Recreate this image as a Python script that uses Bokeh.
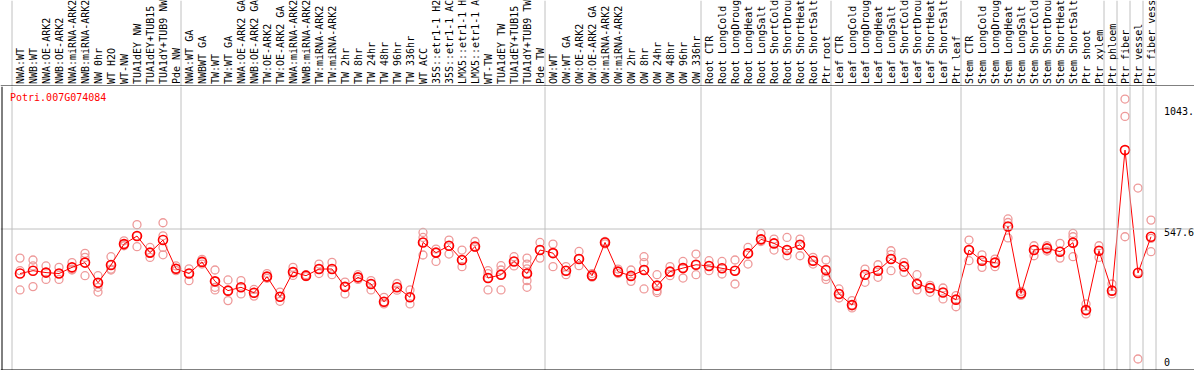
import numpy as np
from bokeh.plotting import figure
from bokeh.models import Range1d, Span, Label, ColumnDataSource
from bokeh.layouts import column
from bokeh.embed import file_html
from bokeh.resources import INLINE
from bokeh.core.properties import value

gene = "Potri.007G074084"

samples = [
    "NWA:WT", "NWB:WT", "NWA:OE-ARK2", "NWB:OE-ARK2", "NWA:miRNA-ARK2", "NWB:miRNA-ARK2",
    "NW 0hr", "WT H2O", "WT-NW", "TUA1dEY NW", "TUA1dEY+TUB15", "TUA1dY+TUB9 NW", "Pde NW",
    "NWA:WT GA", "NWBWT GA", "TW:WT", "TW:WT GA", "NWA:OE-ARK2 GA", "NWB:OE-ARK2 GA",
    "TW:OE-ARK2", "TW:OE-ARK2 GA", "NWA:miRNA-ARK2", "NWB:miRNA-ARK2", "TW:miRNA-ARK2",
    "TW:miRNA-ARK2", "TW 2hr", "TW 8hr", "TW 24hr", "TW 48hr", "TW 96hr", "TW 336hr",
    "WT ACC", "35S::etr1-1 H2", "35S::etr1-1 AC", "LMX5::etr1-1 H", "LMX5::etr1-1 A",
    "WT-TW", "TUA1dEY TW", "TUA1dEY+TUB15", "TUA1dY+TUB9 TW", "Pde TW",
    "OW:WT", "OW:WT GA", "OW:OE-ARK2", "OW:OE-ARK2 GA", "OW:miRNA-ARK2", "OW:miRNA-ARK2",
    "OW 2hr", "OW 8hr", "OW 24hr", "OW 48hr", "OW 96hr", "OW 336hr",
    "Root CTR", "Root LongCold", "Root LongDroug", "Root LongHeat", "Root LongSalt",
    "Root ShortCold", "Root ShortDrou", "Root ShortHeat", "Root ShortSalt", "Ptr root",
    "Leaf CTR", "Leaf LongCold", "Leaf LongDroug", "Leaf LongHeat", "Leaf LongSalt",
    "Leaf ShortCold", "Leaf ShortDrou", "Leaf ShortHeat", "Leaf ShortSalt", "Ptr leaf",
    "Stem CTR", "Stem LongCold", "Stem LongDroug", "Stem LongHeat", "Stem LongSalt",
    "Stem ShortCold", "Stem ShortDrou", "Stem ShortHeat", "Stem ShortSalt", "Ptr shoot",
    "Ptr xylem", "Ptr phloem", "Ptr fiber", "Ptr vessel", "Ptr fiber vess",
]

means = [
    360, 372, 364, 360, 386, 406, 321, 396, 484, 518, 448, 501, 380,
    360, 409, 327, 288, 302, 279, 347, 262, 366, 351, 379, 379, 304, 344, 316,
    241, 302, 260, 491, 448, 477, 417, 474, 341, 355, 411, 360, 459,
    446, 372, 421, 351, 491, 368, 350, 375, 309, 368, 383, 397,
    392, 382, 372, 445, 504, 487, 459, 481, 414, 375,
    274, 227, 355, 372, 421, 390, 316, 299, 280, 250,
    459, 414, 406, 558, 276, 459, 466, 452, 490, 206, 456,
    288, 880, 362, 515,
]

replicates = [
    [425, 372, 291], [417, 392, 305], [392, 365, 335], [386, 360, 335], [406, 378, 375],
    [445, 428, 351], [351, 321, 302, 282], [431, 396, 379, 375], [498, 484, 477],
    [566, 518, 473], [470, 448, 428], [574, 519, 470, 439], [392, 380, 372],
    [380, 360, 330], [420, 409, 400], [375, 327, 302, 291], [333, 288, 246],
    [330, 302, 274], [293, 279, 265], [360, 347, 340], [282, 262, 243], [386, 366, 352],
    [355, 351, 347], [400, 379, 360], [407, 379, 355], [324, 304, 274], [355, 344, 335],
    [330, 316, 291], [260, 241, 232], [318, 302, 290], [291, 260, 232],
    [533, 512, 491, 438], [463, 448, 411], [501, 477, 442], [459, 417, 389],
    [495, 474, 470], [372, 360, 341, 291], [393, 375, 355, 291], [431, 411, 392],
    [425, 400, 380, 360, 330, 302], [491, 459, 425],
    [484, 446, 389], [389, 372, 355], [453, 421, 393], [360, 351, 345], [495, 491, 485],
    [379, 368, 360], [375, 350, 327], [431, 406, 375, 295], [355, 309, 288, 280],
    [389, 368, 351], [411, 383, 341], [442, 397, 355],
    [414, 392, 372], [411, 382, 358], [417, 372, 316], [470, 445, 400], [529, 504, 495],
    [505, 487, 459], [512, 459, 435], [505, 481, 435], [428, 414, 400], [417, 375, 347, 335],
    [295, 274, 257], [246, 227, 215], [379, 355, 323], [397, 372, 344], [456, 440, 421, 372],
    [407, 390, 365], [355, 316, 291], [310, 299, 281], [299, 280, 253], [267, 250, 220],
    [501, 459, 414], [439, 414, 386], [421, 406, 389], [590, 575, 558, 510], [285, 276, 268],
    [477, 459, 435], [477, 466, 455], [487, 452, 425], [529, 515, 490, 431], [232, 206, 190],
    [477, 456, 428], [316, 288, 274], [1095, 1022, 515], [720, 366, 0], [585, 508, 452],
]

group_starts = [0, 13, 41, 53, 63, 73, 84, 85, 86, 87, 88]
y_ticks = [0, 547.6, 1043]
y_tick_labels = ["0", "547.6", "1043."]

# ---- layout constants (pixels) ----
W, H = 1194, 370
HEAD = 86
X0, DX = 19.5, 13.0          # pixel x of first column, column spacing
Y0, SY = 358.5, 130.0 / 547.6  # pixel y of value 0, pixels per unit
FONT = "DejaVu Sans Mono"
GRAY = "#C0C0C0"


def xd(px):
    return (px - X0) / DX


def yd(py):
    return (Y0 - py) / SY


x_range = Range1d(xd(0), xd(W))
idx = list(range(len(samples)))

# ---- header with rotated sample names ----
head = figure(width=W, height=HEAD, x_range=x_range, y_range=Range1d(0, HEAD),
              output_backend="svg", toolbar_location=None, min_border=0,
              x_axis_type=None, y_axis_type=None)
head.outline_line_color = None
head.border_fill_color = "white"
head.background_fill_color = "white"
head.xgrid.visible = False
head.ygrid.visible = False

hsrc = ColumnDataSource(dict(x=idx, text=samples))
head.text(x="x", y=HEAD - 83.5, text="text", source=hsrc, angle=np.pi / 2,
          text_align="left", text_baseline="middle", text_font=value(FONT),
          text_font_size="10px", text_color="black")
for s in group_starts:
    head.add_layout(Span(location=s - 8 / DX, dimension="height",
                         line_color=GRAY, line_width=1))
head.add_layout(Span(location=HEAD - 85.5, dimension="width",
                     line_color="black", line_width=1))

# ---- data panel ----
p = figure(width=W, height=H - HEAD, x_range=x_range, y_range=Range1d(yd(H), yd(HEAD)),
           output_backend="svg", toolbar_location=None, min_border=0,
           x_axis_type=None, y_axis_type=None)
p.outline_line_color = None
p.border_fill_color = "white"
p.background_fill_color = "white"
p.xgrid.visible = False
p.ygrid.visible = False

for s in group_starts:
    p.add_layout(Span(location=s - 8 / DX, dimension="height",
                      line_color=GRAY, line_width=1))
p.add_layout(Span(location=y_ticks[1], dimension="width", line_color=GRAY, line_width=1))
p.add_layout(Span(location=xd(1.5), dimension="height", line_color="black", line_width=1))
p.add_layout(Span(location=yd(369.5), dimension="width", line_color="black", line_width=1))

rx = [i for i, reps in enumerate(replicates) for _ in reps]
ry = [v for reps in replicates for v in reps]
p.scatter(rx, ry, size=8, marker="circle", fill_color=None,
          line_color="#EE9A9A", line_width=1.3)
p.line(idx, means, line_color="red", line_width=1)
p.scatter(idx, means, size=9, marker="circle", fill_color=None,
          line_color="red", line_width=1.6)

# value labels at the right edge
n_low = len(y_ticks) - 1
p.text(x=[len(samples)] * n_low, y=y_ticks[:n_low], text=y_tick_labels[:n_low],
       text_align="left", text_baseline="middle", y_offset=3,
       text_font=value(FONT), text_font_size="10px", text_color="black")
p.text(x=[len(samples)], y=y_ticks[n_low:], text=y_tick_labels[n_low:],
       text_align="left", text_baseline="alphabetic",
       text_font=value(FONT), text_font_size="10px", text_color="black")

p.add_layout(Label(x=xd(9.5), y=yd(97), text=gene, text_color="red",
                   text_align="left", text_baseline="middle",
                   text_font=FONT, text_font_size="10px"))

lay = column(head, p, spacing=0)

open("out.html", "w").write(file_html(lay, INLINE))
